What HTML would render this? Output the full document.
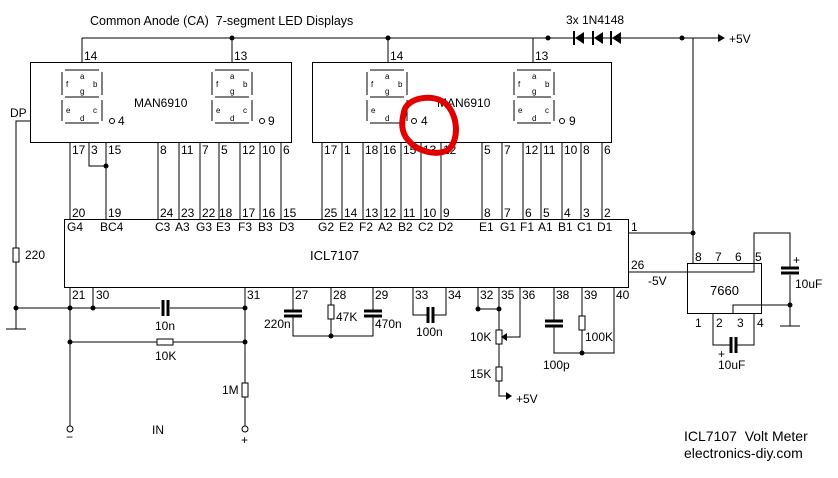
<!DOCTYPE html>
<html><head><meta charset="utf-8"><style>
html,body{margin:0;padding:0;background:#fff;}
svg{display:block;font-family:"Liberation Sans",sans-serif;}
text{fill:#000;font-size:12px;white-space:pre;}
.s{font-size:8px;}
</style></head><body>
<svg width="838" height="478" viewBox="0 0 838 478" xmlns="http://www.w3.org/2000/svg">
<defs>
<g id="seg" stroke="#000" stroke-width="1" fill="none">
  <line x1="3" y1="0" x2="37" y2="0"/>
  <line x1="3" y1="27" x2="37" y2="27"/>
  <line x1="3" y1="53" x2="37" y2="53"/>
  <line x1="0" y1="2" x2="0" y2="25"/>
  <line x1="40" y1="2" x2="40" y2="25"/>
  <line x1="0" y1="30" x2="0" y2="51"/>
  <line x1="40" y1="30" x2="40" y2="51"/>
</g>
</defs>
<g stroke="#000" stroke-width="1" fill="none">
<line x1="82" y1="38" x2="718" y2="38"/>
<line x1="82" y1="38" x2="82" y2="62"/>
<line x1="232" y1="38" x2="232" y2="62"/>
<line x1="388" y1="38" x2="388" y2="62"/>
<line x1="533" y1="38" x2="533" y2="62"/>
<line x1="693" y1="38" x2="693" y2="263"/>
<rect x="30.5" y="62.5" width="261" height="80"/>
<rect x="312.5" y="62.5" width="299" height="80"/>
<rect x="64.5" y="219.5" width="564" height="68"/>
<path d="M70 142V219M89 142V166H106M106 142V219M158 142V219M179 142V219M200 142V219M219 142V219M240 142V219M260 142V219M281 142V219"/>
<path d="M322 142V219M342 142V219M363 142V219M381 142V219M401 142V219M421 142V219M441 142V219M482 142V219M502 142V219M523 142V219M541 142V219M562 142V219M581 142V219M602 142V219"/>
<path d="M30 121H16V308M6 329H26M16 308V329"/>
<rect x="13" y="248" width="6" height="14" fill="#fff"/>
<path d="M16 308H160M170 308H245M70 287V429M93 287V308M245 287V383M245 397V424M70 342H157M173 342H245"/>
<rect x="157" y="339" width="16" height="6" fill="#fff"/>
<rect x="242" y="383" width="6" height="14" fill="#fff"/>
<path d="M70 424V429M245 424V429"/>
<path d="M293 287V310M293 316V336H373V316M373 310V287M331 287V305M331 319V336"/>
<rect x="328" y="305" width="6" height="14" fill="#fff"/>
<path d="M413 287V315H428M433 315H446V287"/>
<path d="M478 287V309H499M499 287V330M499 344V367M499 381V396H506M520 287V337H505"/>
<rect x="496" y="330" width="6" height="14" fill="#fff"/>
<rect x="496" y="367" width="6" height="14" fill="#fff"/>
<path d="M554 287V320M554 326V353H614V287M582 287V316M582 330V353"/>
<rect x="579" y="316" width="6" height="14" fill="#fff"/>
<path d="M628 233H693M628 272H754V233H790V268M790 275V326M780 326H800M733 314V305H790"/>
<rect x="687.5" y="263.5" width="74" height="50"/>
<path d="M713 314V345H730M736 345H754V314"/>
</g>
<g stroke="#000" stroke-width="3">
<line x1="163" y1="300" x2="163" y2="316"/><line x1="168" y1="300" x2="168" y2="316"/>
<line x1="284" y1="311" x2="302" y2="311"/><line x1="284" y1="316" x2="302" y2="316"/>
<line x1="364" y1="311" x2="382" y2="311"/><line x1="364" y1="316" x2="382" y2="316"/>
<line x1="428" y1="307" x2="428" y2="323"/><line x1="433" y1="307" x2="433" y2="323"/>
<line x1="545" y1="321" x2="563" y2="321"/><line x1="545" y1="326" x2="563" y2="326"/>
<line x1="781" y1="268" x2="799" y2="268"/><line x1="781" y1="273" x2="799" y2="273"/>
<line x1="731" y1="337" x2="731" y2="353"/><line x1="736" y1="337" x2="736" y2="353"/>
</g>
<g fill="#000">
<circle cx="232" cy="38" r="2.5"/><circle cx="388" cy="38" r="2.5"/><circle cx="548" cy="38" r="2.5"/><circle cx="682" cy="38" r="2.5"/>
<circle cx="693" cy="233" r="2.5"/><circle cx="106" cy="166" r="2.5"/>
<circle cx="16" cy="308" r="2.5"/><circle cx="70" cy="308" r="2.5"/><circle cx="93" cy="308" r="2.5"/><circle cx="245" cy="308" r="2.5"/>
<circle cx="70" cy="342" r="2.5"/><circle cx="245" cy="342" r="2.5"/>
<circle cx="331" cy="336" r="2.5"/><circle cx="478" cy="309" r="2.5"/><circle cx="499" cy="309" r="2.5"/>
<circle cx="582" cy="353" r="2.5"/><circle cx="790" cy="305" r="2.5"/>
<polygon points="718,34 725,38 718,42"/>
<polygon points="506,392 512,396 506,400"/>
<polygon points="501,337 507,333 507,341"/>
<polygon points="575,38 584,32 584,44"/><rect x="573" y="31" width="2" height="14"/>
<polygon points="594,38 603,32 603,44"/><rect x="592" y="31" width="2" height="14"/>
<polygon points="612,38 621,32 621,44"/><rect x="610" y="31" width="2" height="14"/>
</g>
<circle cx="70" cy="429" r="3" fill="#fff" stroke="#000"/>
<circle cx="245" cy="429" r="3" fill="#fff" stroke="#000"/>
<use href="#seg" x="62" y="70"/><use href="#seg" x="212" y="70"/>
<use href="#seg" x="367" y="70"/><use href="#seg" x="514" y="70"/>
<g>
<text x="80" y="79" class="s">a</text><text x="66" y="87" class="s">f</text><text x="80" y="94" class="s">g</text><text x="93" y="87" class="s">b</text><text x="66" y="113" class="s">e</text><text x="80" y="121" class="s">d</text><text x="93" y="113" class="s">c</text>
<text x="230" y="79" class="s">a</text><text x="216" y="87" class="s">f</text><text x="230" y="94" class="s">g</text><text x="243" y="87" class="s">b</text><text x="216" y="113" class="s">e</text><text x="230" y="121" class="s">d</text><text x="243" y="113" class="s">c</text>
<text x="385" y="79" class="s">a</text><text x="371" y="87" class="s">f</text><text x="385" y="94" class="s">g</text><text x="398" y="87" class="s">b</text><text x="371" y="113" class="s">e</text><text x="385" y="121" class="s">d</text>
<text x="532" y="79" class="s">a</text><text x="518" y="87" class="s">f</text><text x="532" y="94" class="s">g</text><text x="545" y="87" class="s">b</text><text x="518" y="113" class="s">e</text><text x="532" y="121" class="s">d</text><text x="545" y="113" class="s">c</text>
</g>
<circle cx="112" cy="121" r="2.5" fill="none" stroke="#000"/><text x="118" y="125">4</text>
<circle cx="262" cy="121" r="2.5" fill="none" stroke="#000"/><text x="268" y="125">9</text>
<circle cx="414" cy="121" r="2.5" fill="none" stroke="#000"/><text x="421" y="125">4</text>
<circle cx="562" cy="121" r="2.5" fill="none" stroke="#000"/><text x="569" y="125">9</text>
<text x="134" y="107">MAN6910</text><text x="437" y="107">MAN6910</text>
<text x="90" y="25" style="font-size:12.5px">Common Anode (CA)  7-segment LED Displays</text>
<text x="566" y="24">3x 1N4148</text>
<text x="729" y="43">+5V</text>
<text x="10" y="117">DP</text>
<text x="84" y="60">14</text><text x="234" y="60">13</text><text x="390" y="60">14</text><text x="535" y="60">13</text>
<g>
<text x="72" y="154">17</text><text x="91" y="154">3</text><text x="108" y="154">15</text><text x="160" y="154">8</text><text x="181" y="154">11</text><text x="202" y="154">7</text><text x="221" y="154">5</text><text x="242" y="154">12</text><text x="262" y="154">10</text><text x="283" y="154">6</text>
<text x="324" y="154">17</text><text x="344" y="154">1</text><text x="365" y="154">18</text><text x="383" y="154">16</text><text x="403" y="154">15</text><text x="423" y="154">13</text><text x="443" y="154">12</text><text x="484" y="154">5</text><text x="504" y="154">7</text><text x="525" y="154">12</text><text x="543" y="154">11</text><text x="564" y="154">10</text><text x="583" y="154">8</text><text x="604" y="154">6</text>
<text x="72" y="217">20</text><text x="108" y="217">19</text><text x="160" y="217">24</text><text x="181" y="217">23</text><text x="202" y="217">22</text><text x="219" y="217">18</text><text x="242" y="217">17</text><text x="262" y="217">16</text><text x="283" y="217">15</text>
<text x="324" y="217">25</text><text x="344" y="217">14</text><text x="365" y="217">13</text><text x="383" y="217">12</text><text x="403" y="217">11</text><text x="423" y="217">10</text><text x="443" y="217">9</text><text x="484" y="217">8</text><text x="504" y="217">7</text><text x="525" y="217">6</text><text x="543" y="217">5</text><text x="564" y="217">4</text><text x="583" y="217">3</text><text x="604" y="217">2</text>
<text x="67" y="231">G4</text><text x="100" y="231">BC4</text><text x="155" y="231">C3</text><text x="175" y="231">A3</text><text x="196" y="231">G3</text><text x="216" y="231">E3</text><text x="238" y="231">F3</text><text x="258" y="231">B3</text><text x="279" y="231">D3</text>
<text x="318" y="231">G2</text><text x="339" y="231">E2</text><text x="359" y="231">F2</text><text x="378" y="231">A2</text><text x="398" y="231">B2</text><text x="418" y="231">C2</text><text x="438" y="231">D2</text><text x="479" y="231">E1</text><text x="500" y="231">G1</text><text x="520" y="231">F1</text><text x="538" y="231">A1</text><text x="558" y="231">B1</text><text x="577" y="231">C1</text><text x="597" y="231">D1</text>
</g>
<text x="631" y="231">1</text><text x="631" y="269">26</text><text x="648" y="285">-5V</text>
<text x="310" y="260" style="font-size:13px">ICL7107</text>
<text x="25" y="259">220</text>
<text x="72" y="299">21</text><text x="96" y="299">30</text><text x="247" y="299">31</text>
<text x="295" y="299">27</text><text x="333" y="299">28</text><text x="375" y="299">29</text>
<text x="415" y="299">33</text><text x="448" y="299">34</text>
<text x="480" y="299">32</text><text x="501" y="299">35</text><text x="522" y="299">36</text>
<text x="556" y="299">38</text><text x="584" y="299">39</text><text x="616" y="299">40</text>
<text x="155" y="330">10n</text><text x="155" y="360">10K</text><text x="222" y="394">1M</text>
<text x="264" y="328">220n</text><text x="336" y="321">47K</text><text x="375" y="328">470n</text>
<text x="416" y="336">100n</text><text x="470" y="341">10K</text><text x="470" y="378">15K</text><text x="516" y="403">+5V</text>
<text x="585" y="341">100K</text><text x="543" y="369">100p</text>
<text x="152" y="434">IN</text>
<text x="66" y="441">−</text><text x="241" y="444">+</text>
<text x="695" y="261">8</text><text x="715" y="261">7</text><text x="735" y="261">6</text><text x="755" y="261">5</text>
<text x="710" y="295" style="font-size:13px">7660</text>
<text x="695" y="327">1</text><text x="716" y="327">2</text><text x="737" y="327">3</text><text x="757" y="327">4</text>
<text x="793" y="264">+</text><text x="795" y="288">10uF</text>
<text x="718" y="358">+</text><text x="718" y="369">10uF</text>
<text x="684" y="441" style="font-size:14px">ICL7107  Volt Meter</text>
<text x="684" y="458" style="font-size:14px">electronics-diy.com</text>
<path d="M404 112 C406 98 432 93 445 103 C458 114 460 140 448 150 C436 156 418 152 408 140 C400 131 402 120 404 112 Z" fill="none" stroke="#e00000" stroke-width="6"/>
</svg>
</body></html>
